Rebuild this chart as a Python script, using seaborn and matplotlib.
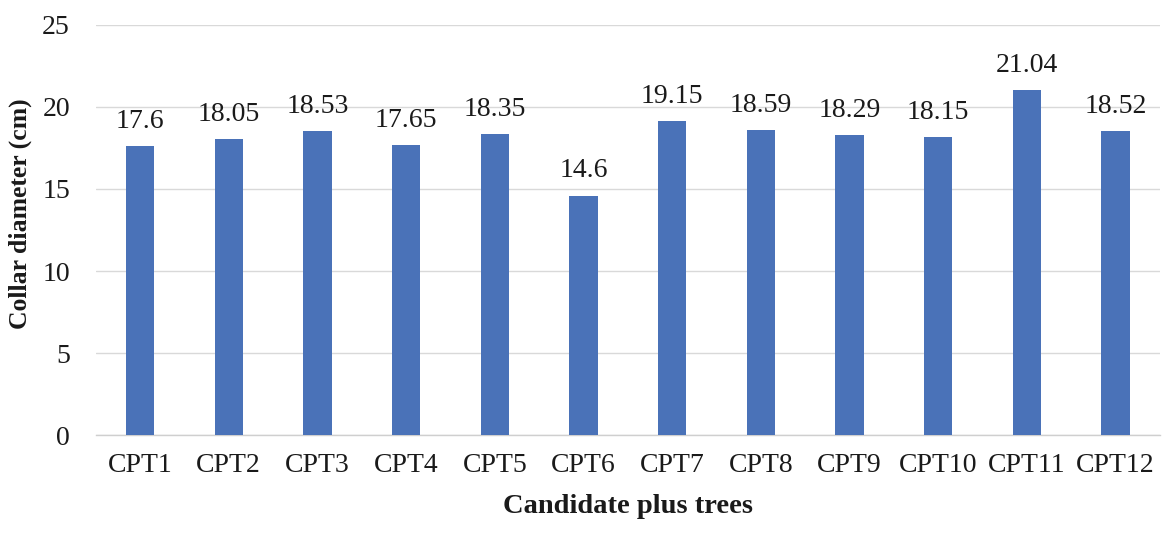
import matplotlib
matplotlib.use("Agg")
import matplotlib.pyplot as plt
import seaborn as sns
import pandas as pd

trees = ["CPT1", "CPT2", "CPT3", "CPT4", "CPT5", "CPT6",
         "CPT7", "CPT8", "CPT9", "CPT10", "CPT11", "CPT12"]
diameter = [17.6, 18.05, 18.53, 17.65, 18.35, 14.6,
            19.15, 18.59, 18.29, 18.15, 21.04, 18.52]
value_labels = ["17.6", "18.05", "18.53", "17.65", "18.35", "14.6",
                "19.15", "18.59", "18.29", "18.15", "21.04", "18.52"]
y_ticks = [0, 5, 10, 15, 20, 25]

sns.set_theme(style="white")
plt.rcParams["font.family"] = ["Liberation Serif", "DejaVu Serif"]

df = pd.DataFrame({"tree": trees, "diameter": diameter})

fig = plt.figure(figsize=(11.67, 5.38), dpi=100)
ax = fig.add_axes([0.082, 0.191, 0.912, 0.763])

sns.barplot(data=df, x="tree", y="diameter", color="#4a72b8",
            saturation=1, width=0.32, ax=ax, zorder=3, linewidth=0)

ax.set_ylim(0, 25)
ax.set_xlim(-0.5, len(trees) - 0.5)
ax.set_yticks(y_ticks)
ax.set_yticklabels([str(t) for t in y_ticks])
ax.yaxis.grid(True, color="#d9d9d9", linewidth=1, zorder=0)
ax.set_axisbelow(True)
for side in ["top", "right", "left"]:
    ax.spines[side].set_visible(False)
ax.spines["bottom"].set_color("#cfcfcf")
ax.spines["bottom"].set_linewidth(1)

ax.tick_params(axis="both", length=0, labelsize=20, colors="#1a1a1a")
ax.tick_params(axis="y", pad=18.5)
ax.tick_params(axis="x", pad=13)

for i, (v, lab) in enumerate(zip(diameter, value_labels)):
    ax.text(i, v + 1.1, lab, ha="center", va="baseline",
            fontsize=20, color="#1a1a1a")

ax.set_xlabel("Candidate plus trees", fontsize=20.5, fontweight="bold",
              color="#1a1a1a")
ax.set_ylabel("Collar diameter (cm)", fontsize=18.5, fontweight="bold",
              color="#1a1a1a")
ax.xaxis.set_label_coords(0.5, -0.144)
ax.yaxis.set_label_coords(-0.060, 0.539)

fig.savefig("out.png", dpi=100, facecolor="white")
